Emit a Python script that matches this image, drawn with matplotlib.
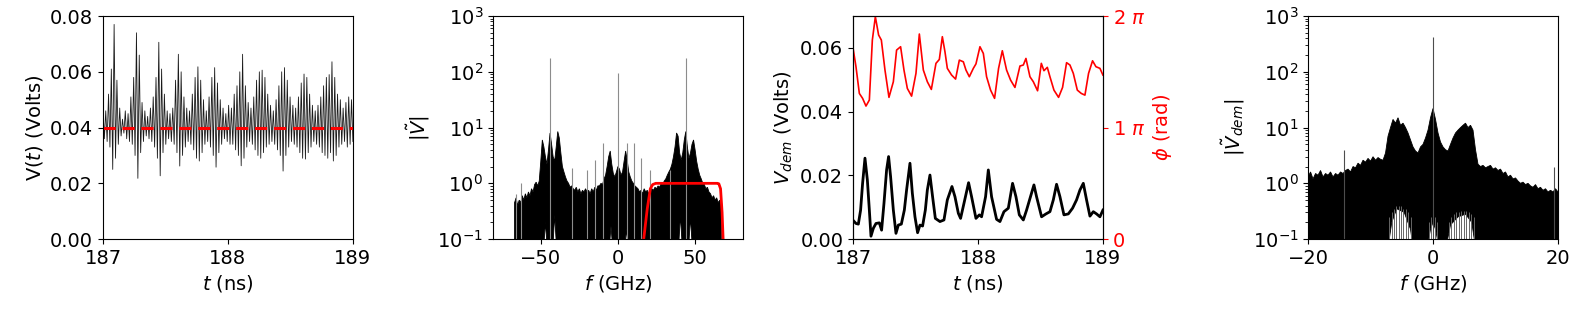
import numpy as np
import matplotlib
matplotlib.use('Agg')
import matplotlib.pyplot as plt

plt.rcParams['font.size'] = 14

# panel 1: carrier maxima / minima per cycle (Volts)
v_upper = [0.047, 0.046, 0.052, 0.061, 0.077, 0.057, 0.047, 0.043, 0.046, 0.045,
           0.051, 0.058, 0.074, 0.066, 0.049, 0.046, 0.044, 0.047, 0.051, 0.058,
           0.0706, 0.061, 0.052, 0.046, 0.045, 0.047, 0.057, 0.0663, 0.060, 0.051,
           0.047, 0.046, 0.052, 0.058, 0.0618, 0.057, 0.050, 0.046, 0.051, 0.058,
           0.0615, 0.056, 0.050, 0.047, 0.045, 0.048, 0.047, 0.052, 0.055, 0.060,
           0.0663, 0.055, 0.049, 0.047, 0.051, 0.057, 0.060, 0.0606, 0.058, 0.052,
           0.048, 0.046, 0.050, 0.055, 0.060, 0.0615, 0.057, 0.051, 0.048, 0.047,
           0.051, 0.056, 0.0592, 0.058, 0.052, 0.048, 0.046, 0.048, 0.051, 0.055,
           0.058, 0.059, 0.0636, 0.058, 0.052, 0.050, 0.047, 0.049, 0.051, 0.050]
v_lower = [0.036, 0.035, 0.033, 0.025, 0.029, 0.034, 0.037, 0.038, 0.036, 0.035,
           0.034, 0.030, 0.0218, 0.031, 0.035, 0.037, 0.036, 0.035, 0.033, 0.029,
           0.0227, 0.031, 0.034, 0.036, 0.035, 0.034, 0.031, 0.0262, 0.030, 0.033,
           0.035, 0.034, 0.032, 0.029, 0.028, 0.031, 0.034, 0.035, 0.033, 0.030,
           0.0258, 0.031, 0.034, 0.036, 0.035, 0.034, 0.034, 0.032, 0.030, 0.0263,
           0.029, 0.033, 0.035, 0.034, 0.032, 0.030, 0.029, 0.031, 0.033, 0.034,
           0.035, 0.034, 0.032, 0.030, 0.0244, 0.030, 0.033, 0.035, 0.034, 0.033,
           0.031, 0.029, 0.0287, 0.031, 0.033, 0.035, 0.034, 0.033, 0.031, 0.030,
           0.029, 0.031, 0.028, 0.030, 0.033, 0.034, 0.035, 0.033, 0.034, 0.035]
v_mean = 0.040

# panel 2: |V~| top edge, one value per GHz from -67 to 67
spec2_hi = [0.45, 0.55, 0.4, 0.5, 0.45, 0.6, 0.5, 0.65,
            0.55, 0.7, 0.6, 0.8, 0.7, 0.95, 1.05, 0.9,
            1.1, 2.5, 6, 4.5, 3, 2.2, 4, 8, 5, 3, 2.5, 4.5, 8.5, 6.5,
            3.5, 2, 1.6, 1.3, 1.1, 1.0, 0.85, 0.9,
            0.8, 0.75, 0.85, 0.7, 0.8, 0.65, 0.75, 0.7, 0.8, 0.7, 0.75, 0.65, 0.8, 0.7, 0.85, 0.75, 0.9,
            0.9, 1.0, 0.95, 1.2, 1.4, 2.0, 3.0, 3.8, 2.2, 1.5, 1.3, 1.6,
            2.0, 1.8, 1.4, 1.6, 2.5, 3.8, 2.6, 1.6, 1.3, 1.1, 1.0, 0.9, 0.85,
            0.8, 0.7, 0.75, 0.65, 0.8, 0.7, 0.75, 0.65, 0.7, 0.8, 0.75, 0.85, 0.8, 0.9, 0.85, 1.0, 0.95, 1.1,
            1.2, 1.4, 1.6, 1.8, 2.2, 3, 4.5, 8, 7, 3.5, 2.6, 3.5, 6, 8.5, 4.5, 2.8, 3.5, 5, 6, 4,
            2.5, 1.8, 1.4, 1.2, 1.0, 0.95, 0.8, 0.85, 0.7, 0.65, 0.55, 0.6, 0.5, 0.55, 0.45, 0.5, 0.4]
# bottom edge of the dense band (white notches next to the strong peaks)
f2_lo = [-67, -48.5, -47, -45.5, -42.5, -41, -39.5, -6, -4.5, -3, 4, 5.5, 7,
         39, 40.5, 42, 45.5, 47, 48.5, 67]
spec2_lo = [0.05, 0.05, 0.2, 0.05, 0.05, 0.27, 0.05, 0.05, 0.17, 0.05, 0.05, 0.15, 0.05,
            0.05, 0.27, 0.05, 0.05, 0.25, 0.05, 0.05]
spike2_f = [-66.3, -62.6, -44, -29.5, -19.8, -14.6, -10, 0, 5.6, 10.1, 15, 20.5, 34, 44]
spike2_h = [0.65, 1.0, 175, 1.9, 1.7, 2.6, 5.2, 95, 5.3, 5.2, 2.8, 1.7, 1.7, 175]
win_f = [15, 16.7, 19, 21, 22.5, 24.5, 64.5, 65.4, 66.5, 67.5, 68.3, 69]
win_v = [0.05, 0.1, 0.35, 0.8, 0.95, 1.0, 1.0, 0.98, 0.8, 0.3, 0.08, 0.05]

# panel 3: demodulated amplitude and phase
t_dem = [187.003, 187.024, 187.043, 187.061, 187.077, 187.096, 187.115, 187.131, 187.144, 187.163,
         187.184, 187.211, 187.229, 187.248, 187.269, 187.285, 187.301, 187.323, 187.344, 187.363,
         187.387, 187.411, 187.429, 187.456, 187.475, 187.496, 187.517, 187.536, 187.557, 187.579,
         187.595, 187.616, 187.637, 187.659, 187.696, 187.728, 187.755, 187.792, 187.816, 187.843,
         187.861, 187.888, 187.925, 187.949, 187.984, 188.011, 188.029, 188.061, 188.083, 188.109,
         188.149, 188.176, 188.208, 188.243, 188.277, 188.304, 188.331, 188.363, 188.389, 188.448,
         188.469, 188.509, 188.544, 188.576, 188.603, 188.629, 188.656, 188.688, 188.723, 188.757,
         188.789, 188.816, 188.843, 188.869, 188.896, 188.923, 188.949, 188.976, 189.0]
v_dem = [0.0058, 0.0049, 0.0047, 0.0091, 0.0175, 0.0254, 0.0186, 0.0091, 0.0009, 0.0034,
         0.0049, 0.0051, 0.0028, 0.0112, 0.0217, 0.0259, 0.0196, 0.0091, 0.0018, 0.0044,
         0.0047, 0.0091, 0.0154, 0.0238, 0.0144, 0.0070, 0.0020, 0.0044, 0.0041, 0.0091,
         0.0154, 0.0201, 0.0133, 0.0065, 0.0055, 0.0060, 0.0123, 0.0165, 0.0133, 0.0081,
         0.0065, 0.0112, 0.0177, 0.0133, 0.0065, 0.0076, 0.0070, 0.0133, 0.0217, 0.0133,
         0.0062, 0.0055, 0.0086, 0.0097, 0.0175, 0.0133, 0.0076, 0.0060, 0.0091, 0.0170,
         0.0133, 0.0070, 0.0079, 0.0086, 0.0123, 0.0172, 0.0133, 0.0076, 0.0079, 0.0097,
         0.0123, 0.0154, 0.0175, 0.0123, 0.0072, 0.0086, 0.0079, 0.0070, 0.0091]
t_phase = [187.003, 187.024, 187.051, 187.077, 187.104, 187.131, 187.155, 187.179, 187.205, 187.227,
           187.256, 187.288, 187.323, 187.349, 187.381, 187.408, 187.435, 187.469, 187.504, 187.531,
           187.563, 187.595, 187.627, 187.664, 187.691, 187.715, 187.736, 187.755, 187.789, 187.821,
           187.851, 187.883, 187.904, 187.931, 187.963, 187.984, 188.016, 188.043, 188.069, 188.101,
           188.133, 188.165, 188.195, 188.229, 188.261, 188.296, 188.336, 188.363, 188.384, 188.416,
           188.443, 188.477, 188.507, 188.528, 188.555, 188.576, 188.608, 188.645, 188.677, 188.709,
           188.736, 188.763, 188.795, 188.827, 188.856, 188.885, 188.917, 188.944, 188.976, 189.0]
phase_pi = [1.695, 1.546, 1.306, 1.262, 1.193, 1.247, 1.785, 1.994, 1.830, 1.785,
            1.516, 1.271, 1.411, 1.695, 1.725, 1.516, 1.351, 1.282, 1.486, 1.839,
            1.516, 1.411, 1.342, 1.576, 1.611, 1.815, 1.680, 1.531, 1.471, 1.435,
            1.605, 1.590, 1.516, 1.456, 1.531, 1.571, 1.725, 1.665, 1.456, 1.336,
            1.262, 1.531, 1.689, 1.516, 1.426, 1.360, 1.552, 1.561, 1.620, 1.456,
            1.411, 1.330, 1.576, 1.510, 1.540, 1.456, 1.336, 1.271, 1.360, 1.582,
            1.561, 1.486, 1.336, 1.306, 1.291, 1.486, 1.599, 1.546, 1.531, 1.471]

# panel 4: |V~dem| top edge, one value per 0.4 GHz from -20 to 20
spec4_hi = [1.3, 1.6, 1.2, 1.5, 1.4, 1.7, 1.3, 1.5, 1.4, 1.6, 1.3, 1.5, 1.4, 1.6, 1.5, 1.7,
            1.8, 1.6, 2.0, 1.9, 2.3, 2.1, 2.6, 2.4, 2.8, 2.5, 3.0, 2.6, 2.9, 2.7, 2.6,
            3.5, 7, 10, 14, 12, 15, 11, 12, 10, 8, 6, 4.5,
            3.8, 3.5, 4.5, 5, 6.5, 9, 15,
            22,
            14, 8, 5.5, 4.5, 4, 3.8, 5,
            6.5, 8, 9, 10, 11, 12, 10, 11, 9, 4,
            2.2, 2.0, 2.1, 1.9, 2.0, 2.1, 1.8, 1.9, 1.7, 1.8, 1.5, 1.6, 1.3, 1.4, 1.2, 1.25, 1.1,
            1.0, 1.05, 0.95, 1.0, 0.9, 0.85, 0.95, 0.8, 0.85, 0.75, 0.8, 0.7, 0.75, 0.7, 0.8, 0.7]
f4_lo = [-20, -7.4, -6.6, -5.8, -4.6, -3.6, -3.0, -1.2, -0.4, 0, 0.4, 1.2, 1.8, 2.8, 4.0, 5.2, 6.2, 7.0, 20]
spec4_lo = [0.05, 0.05, 0.2, 0.35, 0.3, 0.15, 0.05, 0.05, 0.15, 0.2, 0.15, 0.05, 0.05, 0.18, 0.25, 0.28, 0.2, 0.05, 0.05]
# grey lines hanging below the dense band
drop4_f = [-7.0, -6.6, -6.2, -5.9, -5.5, -5.1, -4.8, -4.4, -4.0, -3.6, -0.7, -0.3, 0.3, 0.7,
           2.5, 2.9, 3.3, 3.7, 4.1, 4.5, 4.9, 5.3, 5.7, 6.1, 6.5]
drop4_h = [0.25, 0.3, 0.35, 0.4, 0.4, 0.4, 0.35, 0.35, 0.3, 0.25, 0.2, 0.25, 0.25, 0.2,
           0.2, 0.25, 0.28, 0.3, 0.3, 0.32, 0.32, 0.32, 0.3, 0.28, 0.25]
spike4_f = [-14.3, 0, 19.3]
spike4_h = [3.9, 425, 2.0]

fig = plt.figure(figsize=(15.79, 3.15), dpi=100)
w, h, b = 0.1583, 0.708, 0.241

# ---- panel 1
ax1 = fig.add_axes([0.0652, b, w, h])
v_t = np.ravel(np.column_stack([v_upper, v_lower]))
t1 = np.linspace(187, 189, len(v_t))
ax1.plot(t1, v_t, color='0.1', lw=0.6)
ax1.axhline(v_mean, color='red', ls='--', lw=2.2, dashes=(4, 2.2))
ax1.set_xlim(187, 189)
ax1.set_ylim(0, 0.08)
ax1.set_xticks([187, 188, 189])
ax1.set_yticks([0, 0.02, 0.04, 0.06, 0.08])
ax1.set_xlabel('$t$ (ns)')
ax1.set_ylabel('V($t$) (Volts)')

# ---- panel 2
ax2 = fig.add_axes([0.3122, b, w, h])
f2 = np.arange(-67, 68)
ax2.fill(np.concatenate([f2, f2_lo[::-1]]), np.concatenate([spec2_hi, spec2_lo[::-1]]),
         color='k', lw=0.6)
ax2.vlines(spike2_f, 0.05, spike2_h, color='0.55', lw=0.8)
ax2.plot(win_f, win_v, color='red', lw=2)
ax2.set_yscale('log')
ax2.set_ylim(0.1, 1000)
ax2.set_xlim(-81, 81)
ax2.set_xticks([-50, 0, 50])
ax2.set_xlabel('$f$ (GHz)')
ax2.set_ylabel(r'$|\tilde{V}|$')

# ---- panel 3
ax3 = fig.add_axes([0.5402, b, w, h])
ax3.plot(t_dem, v_dem, color='k', lw=2)
ax3.set_xlim(187, 189)
ax3.set_ylim(0, 0.07)
ax3.set_xticks([187, 188, 189])
ax3.set_yticks([0, 0.02, 0.04, 0.06])
ax3.set_xlabel('$t$ (ns)')
ax3.set_ylabel('$V_{dem}$ (Volts)')
ax3r = ax3.twinx()
ax3r.plot(t_phase, np.array(phase_pi) * np.pi, color='red', lw=1.2)
ax3r.set_ylim(0, 2 * np.pi)
ax3r.set_yticks([0, np.pi, 2 * np.pi])
ax3r.set_yticklabels(['0', r'1 $\pi$', r'2 $\pi$'])
ax3r.tick_params(axis='y', colors='red')
ax3r.spines['right'].set_color('k')
ax3r.set_ylabel(r'$\phi$ (rad)', color='red')

# ---- panel 4
ax4 = fig.add_axes([0.8284, b, w, h])
f4 = np.linspace(-20, 20, len(spec4_hi))
ax4.fill(np.concatenate([f4, f4_lo[::-1]]), np.concatenate([spec4_hi, spec4_lo[::-1]]),
         color='k', lw=0.6)
ax4.vlines(drop4_f, 0.05, drop4_h, color='0.4', lw=0.7)
ax4.vlines(spike4_f, 0.05, spike4_h, color='0.3', lw=0.8)
ax4.set_yscale('log')
ax4.set_ylim(0.1, 1000)
ax4.set_xlim(-20, 20)
ax4.set_xticks([-20, 0, 20])
ax4.set_xlabel('$f$ (GHz)')
ax4.set_ylabel(r'$|\tilde{V}_{dem}|$')

plt.savefig('out.png', dpi=100)
